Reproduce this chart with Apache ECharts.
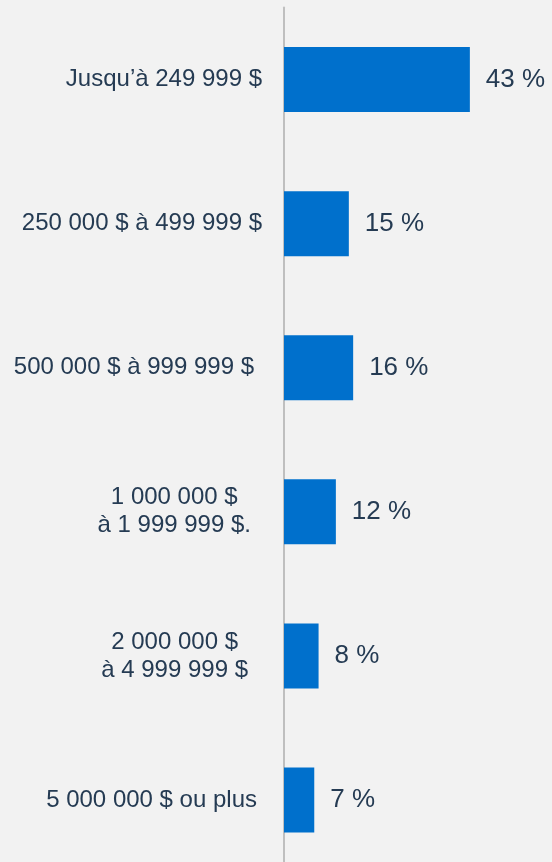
<!DOCTYPE html>
<html>
<head>
<meta charset="utf-8">
<script src="https://cdn.jsdelivr.net/npm/echarts@6/dist/echarts.min.js"></script>
<style>
  html, body { margin: 0; padding: 0; background: #f2f2f2; }
  #chart { width: 552px; height: 862px; }
</style>
</head>
<body>
<div id="chart"></div>
<script>
// tranches de valeur
const categories = [
  "Jusqu’à 249 999 $",
  "250 000 $ à 499 999 $",
  "500 000 $ à 999 999 $",
  "1 000 000 $\nà 1 999 999 $.",
  "2 000 000 $\nà 4 999 999 $",
  "5 000 000 $ ou plus"
];
// pourcentages
const values = [43, 15, 16, 12, 8, 7];

const textColor = "#253b53";
const barColor = "#0070cc";
const fontFamily = "'Liberation Sans', Arial, sans-serif";

// petit décalage à droite de chaque libellé, comme dans l'original
const labelShift = [0, 0, 8, 11, 14, 5];
const rich = {};
labelShift.forEach((s, i) => {
  rich["c" + i] = {
    align: "center",
    color: textColor,
    fontSize: 24,
    fontFamily: fontFamily,
    lineHeight: 28,
    padding: [0, s, 0, 0]
  };
});

const chart = echarts.init(document.getElementById("chart"));

chart.setOption({
  backgroundColor: "#f2f2f2",
  animation: false,
  grid: { left: 284, right: 0, top: 7.5, height: 864.5, outerBoundsMode: "none" },
  xAxis: {
    type: "value",
    min: 0,
    max: 62,
    show: false
  },
  yAxis: {
    type: "category",
    inverse: true,
    data: categories,
    axisLine: { show: true, lineStyle: { color: "#bfbfbf", width: 2 } },
    axisTick: { show: false },
    splitLine: { show: false },
    axisLabel: {
      margin: 22,
      color: textColor,
      fontSize: 24,
      fontFamily: fontFamily,
      lineHeight: 28,
      // lignes multiples centrées entre elles
      formatter: (v, i) => v.split("\n").map((l) => "{c" + i + "|" + l + "}").join("\n"),
      rich: rich
    }
  },
  series: [
    {
      type: "bar",
      data: values,
      barWidth: 65,
      itemStyle: { color: barColor },
      label: {
        show: true,
        position: "right",
        distance: 16,
        color: textColor,
        fontSize: 26,
        fontFamily: fontFamily,
        formatter: (p) => p.value + " %"
      }
    }
  ]
});
</script>
</body>
</html>
